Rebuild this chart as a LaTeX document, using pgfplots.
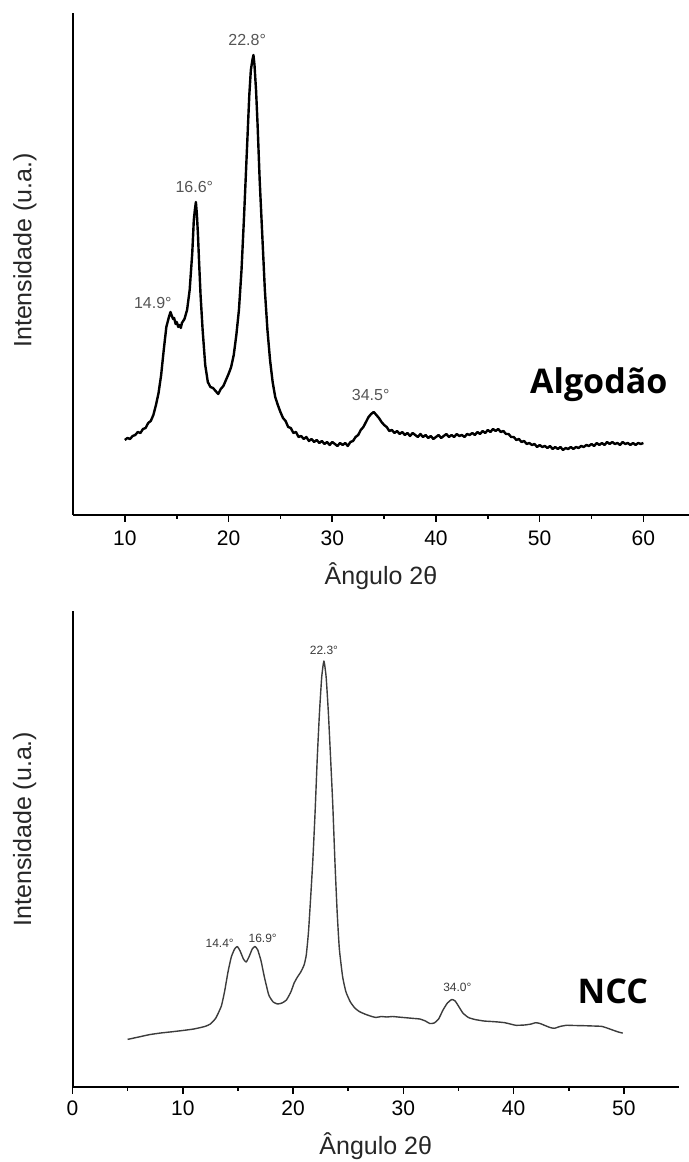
\documentclass[border=0pt]{standalone}
\usepackage{fontspec}
\setmainfont{Liberation Sans}
\newfontfamily\boldlabel{Open Sans}
\usepackage{pgfplots}
\pgfplotsset{compat=1.18}
\definecolor{peakgray}{HTML}{555555}
\definecolor{peakdark}{HTML}{3A3A3A}
\definecolor{curvegray}{HTML}{3C3C3C}
\begin{document}
\begin{tikzpicture}
\path[use as bounding box] (0,0) rectangle (344.5pt,581pt);
\pgfplotsset{
  xrdstyle/.style={
    scale only axis,
    axis x line*=bottom,
    axis y line*=left,
    axis line style={line width=1pt, black},
    ytick=\empty,
    tick align=outside,
    major tick length=3.5pt,
    minor tick length=2pt,
    every tick/.style={black, line width=0.8pt},
    minor x tick num=1,
    /pgf/number format/assume math mode=true,
    ticklabel style={font=\fontsize{10.5}{12}\selectfont, text=black},
    label style={font=\fontsize{12.5}{15}\selectfont, text=black!85},
    clip=false,
  }
}
% ---------------- Top: Algodao ----------------
\begin{axis}[xrdstyle,
  at={(36.5pt,323.5pt)}, anchor=south west,
  width=308pt, height=251pt,
  xmin=5, xmax=64.4, ymin=0, ymax=502,
  xtick={10,20,30,40,50,60},
  xticklabel style={yshift=-1pt},
  xlabel={Ângulo 2θ},
  ylabel={Intensidade (u.a.)},
  xlabel style={at={(axis description cs:0.5,-0.1215)}, anchor=center},
  ylabel style={at={(axis description cs:-0.078,0.527)}, anchor=center},
]
\addplot[black, line width=1.2pt, line join=round] coordinates {
(10.00,75) (10.25,77) (10.50,76) (10.75,79) (11.00,80) (11.25,83) (11.50,82) (11.75,86)
(12.00,87) (12.25,92) (12.50,94) (12.75,100) (13.00,110) (13.25,122) (13.50,140) (13.75,165)
(14.00,188) (14.25,198) (14.40,203) (14.50,200) (14.65,196) (14.75,197) (14.90,191) (15.00,193)
(15.15,188) (15.25,190) (15.40,187) (15.50,192) (15.75,196) (16.00,205) (16.25,225) (16.50,262)
(16.65,295) (16.75,305) (16.85,313) (16.95,300) (17.05,280) (17.15,255) (17.30,220) (17.50,185)
(17.75,150) (18.00,133) (18.25,128) (18.50,127) (18.75,124) (19.00,121) (19.25,126) (19.50,129)
(19.75,135) (20.00,141) (20.25,148) (20.50,160) (20.75,180) (21.00,205) (21.25,245) (21.50,300)
(21.75,360) (22.00,420) (22.15,445) (22.30,455) (22.40,460) (22.50,450) (22.65,425) (22.80,390)
(23.00,335) (23.25,280) (23.50,225) (23.75,185) (24.00,155) (24.25,133) (24.50,118) (24.75,110)
(25.00,103) (25.25,97) (25.50,94) (25.75,88) (26.00,87) (26.25,82) (26.50,83) (26.75,78)
(27.00,79) (27.25,76) (27.50,78) (27.75,74) (28.00,76) (28.25,73) (28.50,75) (28.75,72)
(29.00,74) (29.25,71) (29.50,73) (29.75,70) (30.00,73) (30.25,71) (30.50,69) (30.75,72)
(31.00,70) (31.25,72) (31.50,69) (31.75,73) (32.00,74) (32.25,78) (32.50,80) (32.75,85)
(33.00,88) (33.25,93) (33.50,98) (33.75,101) (34.00,103) (34.25,100) (34.50,97) (34.75,93)
(35.00,90) (35.25,88) (35.50,84) (35.75,85) (36.00,82) (36.25,84) (36.50,81) (36.75,83)
(37.00,80) (37.25,82) (37.50,79) (37.75,82) (38.00,80) (38.25,78) (38.50,81) (38.75,78)
(39.00,80) (39.25,77) (39.50,79) (39.75,76) (40.00,78) (40.25,80) (40.50,77) (40.75,79)
(41.00,81) (41.25,78) (41.50,80) (41.75,78) (42.00,81) (42.25,79) (42.50,80) (42.75,78)
(43.00,81) (43.25,80) (43.50,82) (43.75,80) (44.00,83) (44.25,81) (44.50,84) (44.75,82)
(45.00,85) (45.25,83) (45.50,86) (45.75,84) (46.00,86) (46.25,83) (46.50,84) (46.75,81)
(47.00,81) (47.25,78) (47.50,78) (47.75,75) (48.00,76) (48.25,73) (48.50,74) (48.75,71)
(49.00,72) (49.25,70) (49.50,71) (49.75,68) (50.00,70) (50.25,68) (50.50,69) (50.75,67)
(51.00,69) (51.25,66) (51.50,68) (51.75,66) (52.00,68) (52.25,65) (52.50,67) (52.75,66)
(53.00,68) (53.25,66) (53.50,68) (53.75,67) (54.00,69) (54.25,68) (54.50,70) (54.75,69)
(55.00,71) (55.25,69) (55.50,72) (55.75,70) (56.00,72) (56.25,70) (56.50,73) (56.75,71)
(57.00,73) (57.25,71) (57.50,72) (57.75,70) (58.00,73) (58.25,71) (58.50,72) (58.75,70)
(59.00,72) (59.25,70) (59.50,72) (59.75,71) (60.00,72)
};
\node[font=\fontsize{8}{9}\selectfont, text=peakgray] at (axis cs:21.8,475) {22.8°};
\node[font=\fontsize{8}{9}\selectfont, text=peakgray] at (axis cs:16.7,328) {16.6°};
\node[font=\fontsize{8}{9}\selectfont, text=peakgray] at (axis cs:12.7,212) {14.9°};
\node[font=\fontsize{8}{9}\selectfont, text=peakgray] at (axis cs:33.7,120) {34.5°};
\node[font=\boldlabel\bfseries\fontsize{17}{20}\selectfont] at (axis cs:55.7,130) {Algodão};
\end{axis}
% ---------------- Bottom: NCC ----------------
\begin{axis}[xrdstyle,
  at={(36.25pt,37.5pt)}, anchor=south west,
  width=303.25pt, height=238pt,
  xmin=0, xmax=55, ymin=0, ymax=476,
  xtick={0,10,20,30,40,50},
  xlabel={Ângulo 2θ},
  ylabel={Intensidade (u.a.)},
  xlabel style={at={(axis description cs:0.5,-0.124)}, anchor=center},
  ylabel style={at={(axis description cs:-0.079,0.542)}, anchor=center},
]
\addplot[curvegray, line width=0.7pt, line join=round, smooth, tension=0.3] coordinates {
(5.0,47.6) (6.0,50) (7.0,52.4) (8.0,54) (9.0,55.2) (10.0,56.5) (11.0,58) (12.0,60.5)
(12.5,63) (13.0,69) (13.5,81) (13.8,96) (14.1,115) (14.4,130) (14.7,138) (14.95,140.5)
(15.2,136) (15.5,128) (15.75,125) (16.0,130) (16.3,138) (16.55,140.5) (16.8,137) (17.1,126)
(17.4,110) (17.8,92) (18.2,85) (18.6,83) (19.0,84) (19.4,87) (19.8,95) (20.1,104)
(20.4,110) (20.7,115) (21.0,122) (21.2,132) (21.4,155) (21.6,190) (21.8,228) (22.0,275)
(22.2,330) (22.4,375) (22.6,410) (22.8,426) (23.0,410) (23.2,375) (23.4,330) (23.6,283)
(23.8,225) (24.0,175) (24.2,138) (24.5,110) (24.8,95) (25.2,85) (25.6,79) (26.0,75.5)
(26.5,73) (27.0,71) (27.5,69.5) (28.0,70.5) (28.5,70) (29.0,70.5) (29.5,70) (30.0,69.5)
(30.5,69) (31.0,68.5) (31.5,68) (32.0,66) (32.4,63.5) (32.8,64) (33.2,68) (33.6,77)
(34.0,84) (34.4,87.5) (34.7,86) (35.0,81) (35.4,74) (35.9,69.5) (36.5,67.5) (37.3,66)
(38.0,65.5) (38.6,65) (39.2,64.3) (39.7,63) (40.2,61.7) (41.0,62) (41.6,63) (42.0,64.3)
(42.4,63.5) (42.8,61.7) (43.3,59.5) (43.7,58.7) (44.2,60.5) (44.8,61.7) (45.5,61.5) (46.4,61.3)
(47.2,61) (48.0,60.6) (48.6,58.5) (49.0,56.9) (49.5,55) (49.9,53.9)
};
\node[font=\fontsize{6}{7}\selectfont, text=peakdark] at (axis cs:22.8,437) {22.3°};
\node[font=\fontsize{6}{7}\selectfont, text=peakdark] at (axis cs:13.35,144) {14.4°};
\node[font=\fontsize{6}{7}\selectfont, text=peakdark] at (axis cs:17.25,149) {16.9°};
\node[font=\fontsize{6}{7}\selectfont, text=peakdark] at (axis cs:34.9,99.5) {34.0°};
\node[font=\boldlabel\bfseries\fontsize{17}{20}\selectfont] at (axis cs:49.0,96) {NCC};
\end{axis}
\end{tikzpicture}
\end{document}
